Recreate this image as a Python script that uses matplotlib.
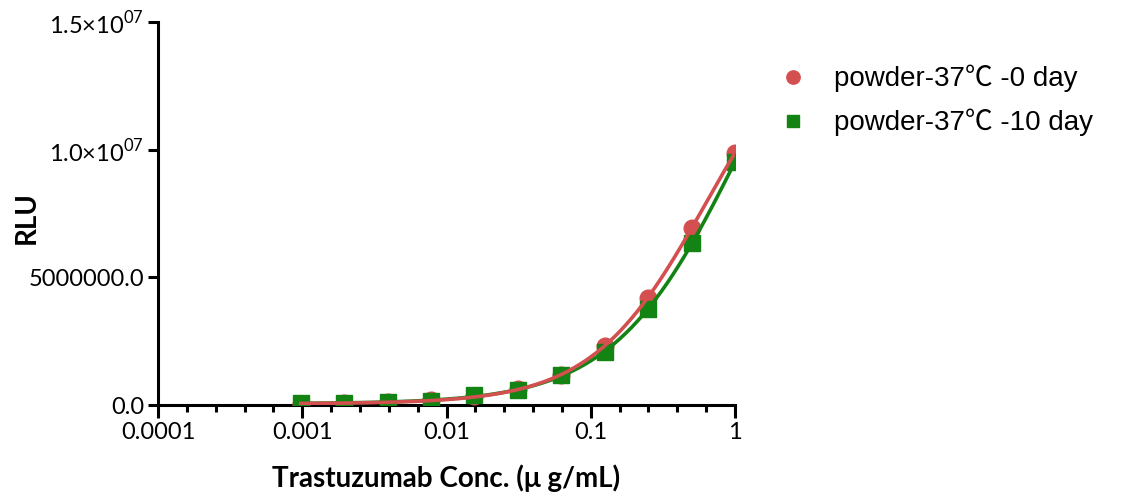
import numpy as np
import matplotlib
matplotlib.use('Agg')
import matplotlib.pyplot as plt
from matplotlib.ticker import FixedLocator, NullFormatter

# two-fold dilution series (ug/mL)
conc = [1, 0.5, 0.25, 0.125, 0.0625, 0.03125, 0.015625, 0.0078125,
        0.00390625, 0.001953125, 0.0009765625]
# RLU
rlu_d0 = [9.88e6, 6.94e6, 4.20e6, 2.30e6, 1.18e6, 0.63e6, 0.35e6, 0.20e6,
          0.10e6, 0.06e6, 0.04e6]
rlu_d10 = [9.50e6, 6.35e6, 3.76e6, 2.08e6, 1.18e6, 0.60e6, 0.38e6, 0.17e6,
           0.10e6, 0.06e6, 0.06e6]

labels = ['powder-37\u2103 -0 day', 'powder-37\u2103 -10 day']
colors = ['#d44f4f', '#138313']
yticks = [0, 5e6, 1e7, 1.5e7]
ytick_labels = ['0.0', '5000000.0', r'1.0$\times$10$^{07}$', r'1.5$\times$10$^{07}$']
xticks = [1e-4, 1e-3, 1e-2, 1e-1, 1]
xtick_labels = ['0.0001', '0.001', '0.01', '0.1', '1']


def fit_4pl(x, y):
    # crude 4PL fit: grid over ec50/hill, linear solve for bottom/top
    x = np.asarray(x); y = np.asarray(y)
    best = None
    for lec in np.linspace(-2, 1.5, 141):
        for h in np.linspace(0.5, 2.0, 61):
            f = 1.0 / (1.0 + (10**lec / x)**h)
            A = np.vstack([np.ones_like(f), f]).T
            coef, res, *_ = np.linalg.lstsq(A, y, rcond=None)
            err = np.sum((A @ coef - y)**2)
            if best is None or err < best[0]:
                best = (err, lec, h, coef)
    _, lec, h, coef = best
    return lambda xx: coef[0] + coef[1] / (1.0 + (10**lec / xx)**h)


plt.rcParams['font.family'] = ['Lato', 'DejaVu Sans']
plt.rcParams['mathtext.fontset'] = 'custom'
plt.rcParams['mathtext.rm'] = 'Lato'

fig = plt.figure(figsize=(11.35, 4.97), dpi=100)
ax = fig.add_axes([0.1392, 0.1851, 0.5084, 0.7706])

xs = np.logspace(np.log10(min(conc)), 0, 300)
f0 = fit_4pl(conc, rlu_d0)
f10 = fit_4pl(conc, rlu_d10)

ax.plot(conc, rlu_d0, 'o', color=colors[0], ms=12, zorder=3, label=labels[0])
ax.plot(conc, rlu_d10, 's', color=colors[1], ms=11, zorder=4, label=labels[1])
ax.plot(xs, f10(xs), color=colors[1], lw=2.6, zorder=5)
ax.plot(xs, f0(xs), color=colors[0], lw=2.6, zorder=6)

ax.set_xscale('log')
ax.set_xlim(1e-4, 1)
ax.set_ylim(0, 1.5e7)
ax.xaxis.set_major_locator(FixedLocator(xticks))
ax.set_xticklabels(xtick_labels)
minor = [10**(k + j / 5) for k in range(-4, 0) for j in range(1, 5)]
ax.xaxis.set_minor_locator(FixedLocator(minor))
ax.xaxis.set_minor_formatter(NullFormatter())
ax.set_yticks(yticks)
ax.set_yticklabels(ytick_labels)

for s in ['top', 'right']:
    ax.spines[s].set_visible(False)
for s in ['left', 'bottom']:
    ax.spines[s].set_linewidth(2.2)
ax.tick_params(which='major', direction='out', length=9, width=2.2,
               labelsize=17, colors='black', pad=3)
ax.tick_params(axis='x', which='minor', direction='out', length=5, width=2.2)
ax.tick_params(axis='y', which='major', length=7)

ax.set_xlabel('Trastuzumab Conc. (\u03bc g/mL)', fontsize=20, fontweight='bold',
              labelpad=16)
ax.set_ylabel('RLU', fontsize=20, fontweight='bold')
ax.yaxis.set_label_coords(-0.205, 0.49)

leg = fig.legend(loc='upper left', bbox_to_anchor=(0.663, 0.92), frameon=False,
                 prop={'family': ['Liberation Sans', 'Noto Sans CJK SC'], 'size': 20},
                 handletextpad=0.95, labelspacing=0.6, handlelength=1.1,
                 markerscale=0.8)

fig.savefig('out.png', dpi=100)
